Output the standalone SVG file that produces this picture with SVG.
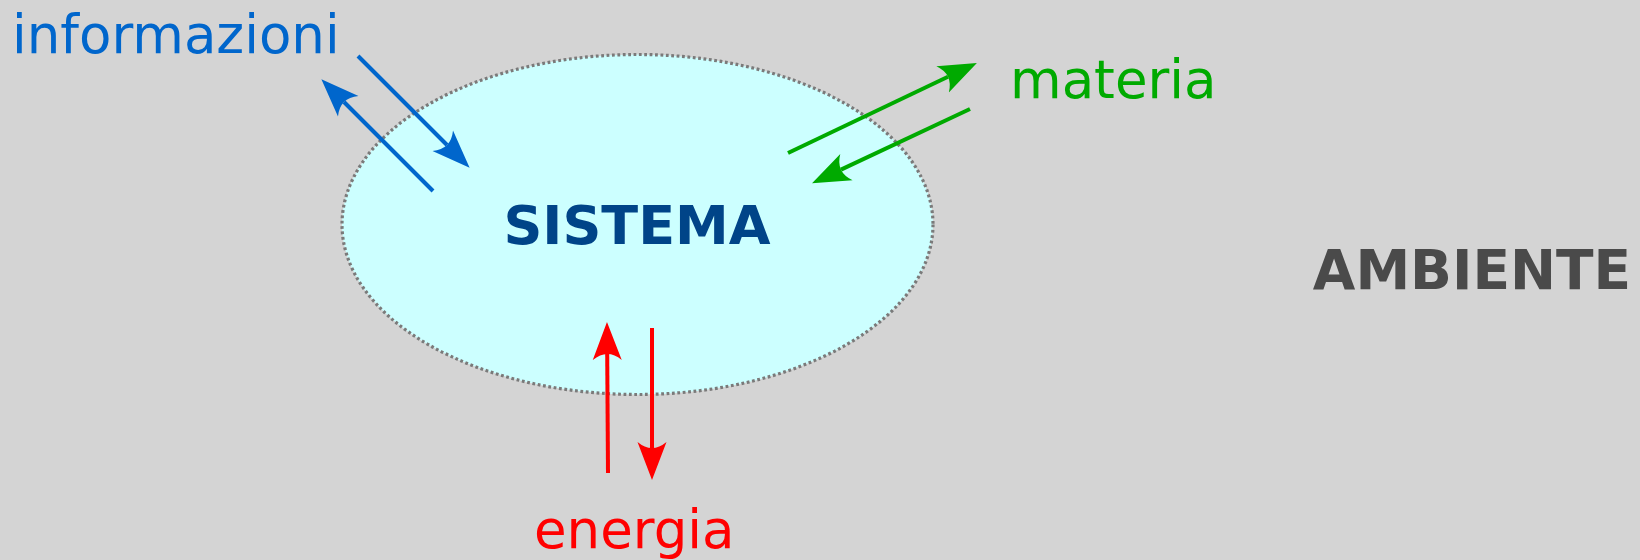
<svg xmlns="http://www.w3.org/2000/svg" width="1640" height="560" viewBox="0 0 1640 560">
  <style>
    .lbl { font-family: "DejaVu Sans", Verdana, sans-serif; font-size: 53px; }
    .bold { font-family: "DejaVu Sans", Verdana, sans-serif; font-weight: bold; }
    .blue { stroke: #0066cc; stroke-width: 4; fill: none; }
    .green { stroke: #00aa00; stroke-width: 4; fill: none; }
    .red { stroke: #ff0000; stroke-width: 4; fill: none; }
  </style>
  <defs>
    <marker id="hBlue" markerUnits="userSpaceOnUse" markerWidth="42" markerHeight="34" viewBox="0 -17 42 34" refX="6" refY="0" orient="auto">
      <path d="M38,0 L0,-14.5 Q12,0 0,14.5 Z" fill="#0066cc"/>
    </marker>
    <marker id="hGreen" markerUnits="userSpaceOnUse" markerWidth="42" markerHeight="34" viewBox="0 -17 42 34" refX="6" refY="0" orient="auto">
      <path d="M38,0 L0,-14.5 Q12,0 0,14.5 Z" fill="#00aa00"/>
    </marker>
    <marker id="hRed" markerUnits="userSpaceOnUse" markerWidth="42" markerHeight="34" viewBox="0 -17 42 34" refX="6" refY="0" orient="auto">
      <path d="M38,0 L0,-14.5 Q12,0 0,14.5 Z" fill="#ff0000"/>
    </marker>
  </defs>
  <rect width="1640" height="560" fill="#d4d4d4"/>
  <g id="sistema">
    <ellipse cx="637.5" cy="224.5" rx="295.5" ry="170" fill="#ccffff" stroke="#7a7a7a" stroke-width="3.2" stroke-dasharray="2.8 2.6"/>
    <text class="bold" x="637" y="244" font-size="54" fill="#004488" text-anchor="middle">SISTEMA</text>
  </g>
  <g id="ambiente">
    <text class="bold" x="1472" y="289" font-size="55" fill="#4a4a4a" text-anchor="middle">AMBIENTE</text>
  </g>
  <g id="informazioni">
    <text class="lbl" x="12" y="53" fill="#0066cc">informazioni</text>
  </g>
  <g id="materia">
    <text class="lbl" x="1010" y="98" fill="#00aa00">materia</text>
  </g>
  <g id="energia">
    <text class="lbl" x="534" y="548" fill="#ff0000">energia</text>
  </g>
  <g id="connectors">
    <line class="blue" x1="358" y1="56" x2="447" y2="145" marker-end="url(#hBlue)"/>
    <line class="blue" x1="433" y1="191" x2="344" y2="102" marker-end="url(#hBlue)"/>
    <line class="green" x1="788" y1="153" x2="948" y2="76.8" marker-end="url(#hGreen)"/>
    <line class="green" x1="970" y1="109" x2="841" y2="169.6" marker-end="url(#hGreen)"/>
    <line class="red" x1="608" y1="473" x2="607.2" y2="354" marker-end="url(#hRed)"/>
    <line class="red" x1="652" y1="328" x2="652" y2="448" marker-end="url(#hRed)"/>
  </g>
</svg>
